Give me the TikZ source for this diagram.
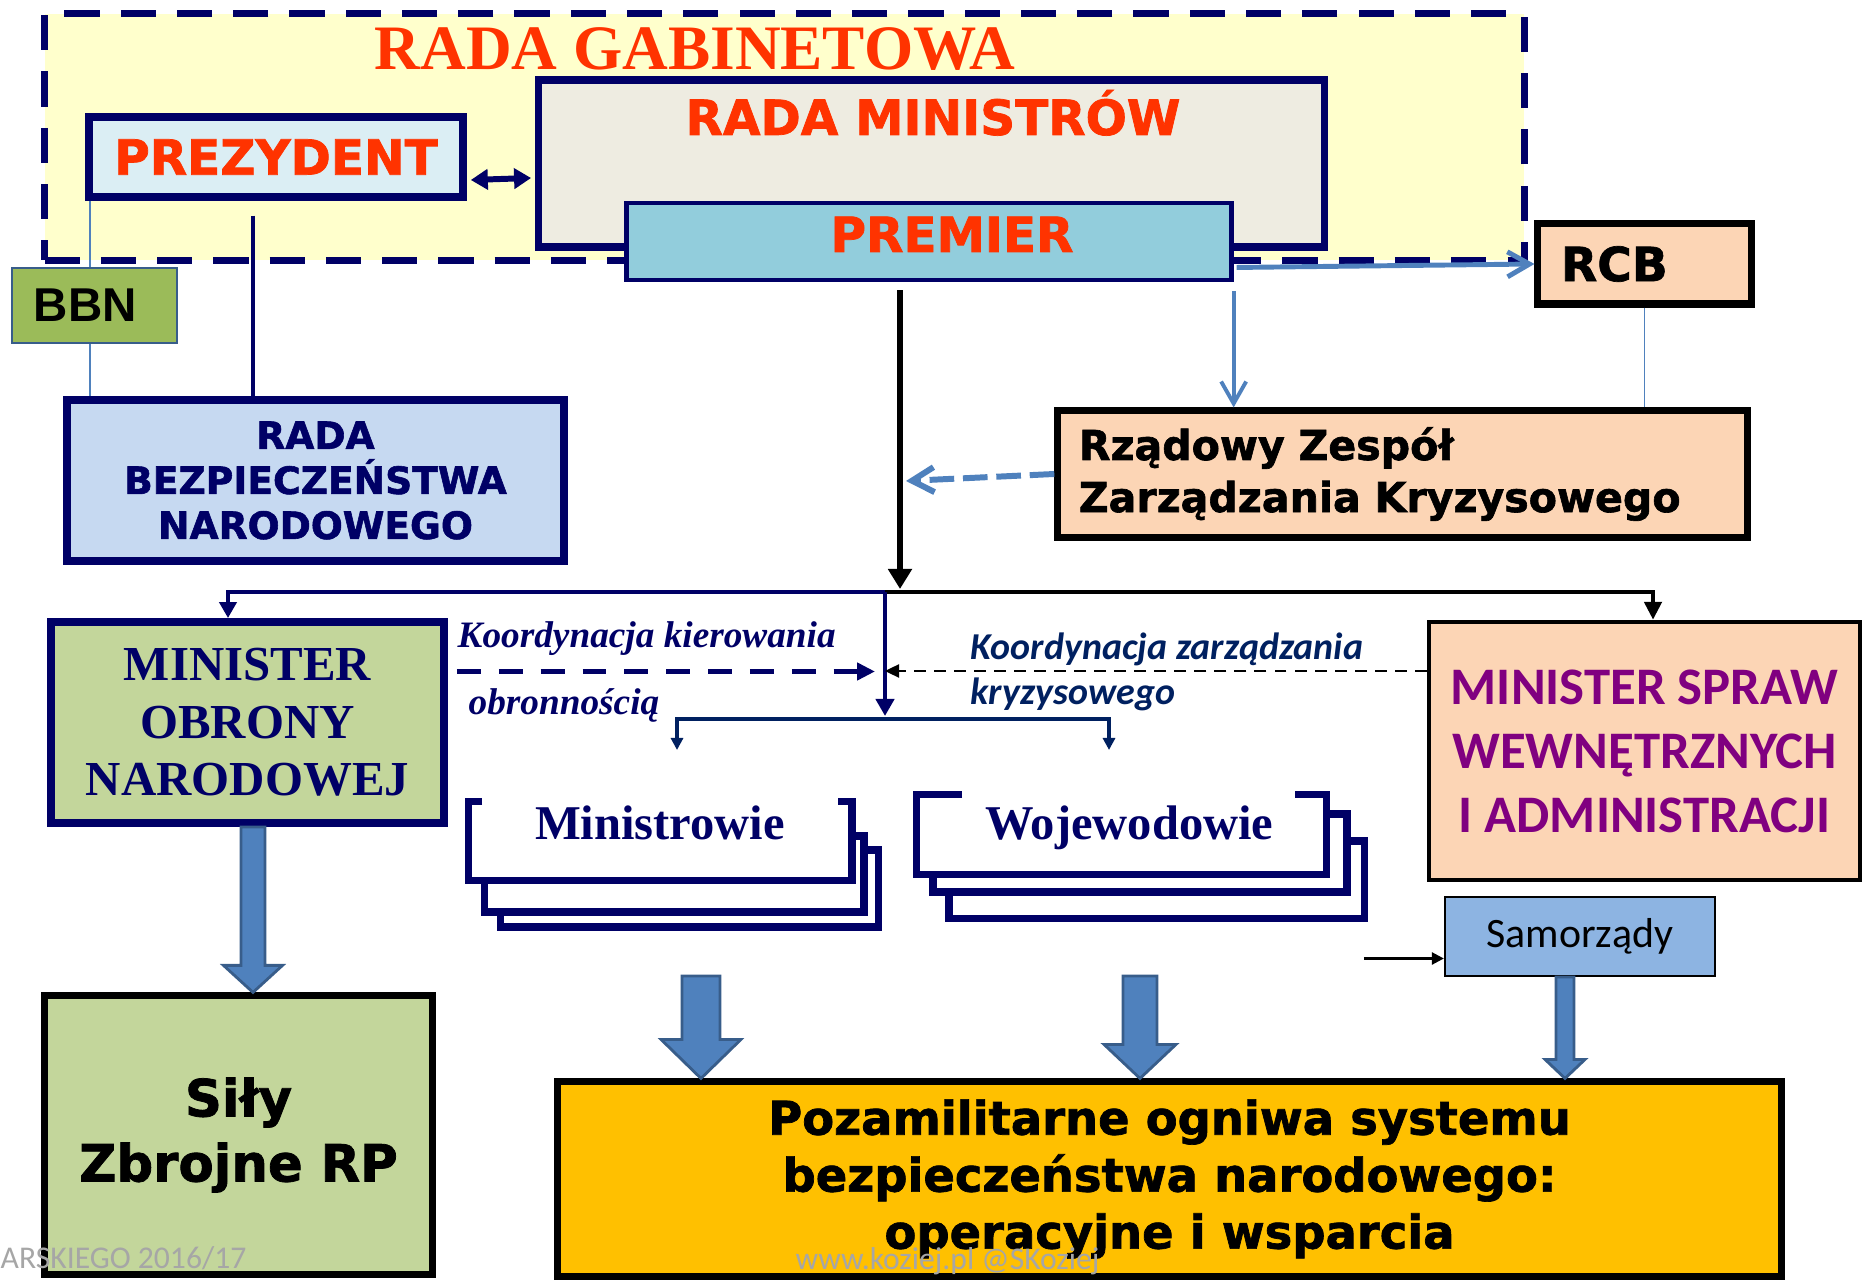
\documentclass[tikz,border=0pt]{standalone}
\usepackage{fontspec}
\setmainfont{Liberation Serif}
\newfontfamily\blackfont{DejaVu Sans}[BoldFeatures={FakeBold=1.5}]
\newfontfamily\arialfont{Liberation Sans}
\newfontfamily\calibrifont{Carlito}
\usetikzlibrary{arrows.meta, calc, positioning}

\definecolor{granat}{RGB}{0,0,102}
\definecolor{ciemnyniebieski}{RGB}{0,32,96}
\definecolor{czerwony}{RGB}{255,51,0}
\definecolor{zolty}{RGB}{255,255,204}
\definecolor{bez}{RGB}{238,236,225}
\definecolor{turkus}{RGB}{146,205,220}
\definecolor{blekit}{RGB}{219,238,244}
\definecolor{niebieski}{RGB}{198,217,241}
\definecolor{oliwka}{RGB}{155,187,89}
\definecolor{brzoskwinia}{RGB}{252,213,181}
\definecolor{seledyn}{RGB}{195,214,155}
\definecolor{samniebieski}{RGB}{141,180,226}
\definecolor{zloty}{RGB}{255,192,0}
\definecolor{stal}{RGB}{79,129,189}
\definecolor{stalciemna}{RGB}{56,93,138}
\definecolor{fiolet}{RGB}{128,0,128}
\definecolor{szary}{RGB}{166,166,166}

\newcommand{\rozmiar}[2]{\fontsize{#1pt}{#2pt}\selectfont}
% gruba strzalka: start, cel, pol trzonu, pol grotu, dlugosc grotu
\newcommand{\blokarrow}[5]{%
  \coordinate (bs) at (#1);
  \coordinate (bt) at (bs |- #2);
  \draw[blok] ($(bs)+(-#3,0)$) -- ($(bs)+(#3,0)$) -- ($(bt)+(#3,-#5)$) -- ($(bt)+(#4,-#5)$)
    -- (bt) -- ($(bt)+(-#4,-#5)$) -- ($(bt)+(-#3,-#5)$) -- cycle;}

\tikzset{
  ramka/.style={draw=granat, line width=2.1pt, inner sep=0pt},
  czarnaramka/.style={draw=black, line width=2pt, inner sep=0pt, fill=brzoskwinia},
  tytul/.style={text=czerwony, inner sep=0pt, font=\blackfont\bfseries\rozmiar{13.8}{16}},
  cienka/.style={draw=stal, line width=0.4pt},
  niebieska/.style={draw=stal, -{Straight Barb[length=0.22cm,width=0.25cm]}},
  granatowa/.style={draw=granat, line width=1.4pt, -{Triangle[length=0.16cm,width=0.17cm]}},
  blok/.style={fill=stal, draw=stalciemna, line width=0.8pt},
  stos/.style={draw=granat, line width=2.1pt, fill=white},
  etykieta/.style={anchor=base west, inner sep=0pt}
}

\begin{document}
\begin{tikzpicture}[x=0.01cm, y=-0.01cm]
\useasboundingbox (0,0) rectangle (1870,1283);

% Rada Gabinetowa
\node[draw=granat, fill=zolty, line width=2pt, dash pattern=on 10pt off 6pt, inner sep=0pt,
  minimum width=14.79cm, minimum height=2.46cm] (gab) at (784.5,137) {};
\node[anchor=base, text=czerwony, inner sep=0pt, font=\bfseries\rozmiar{18}{20}] (gabt) at (695,70) {RADA GABINETOWA};

% Rada Ministrow, Prezydent, Premier
\node[ramka, fill=bez, minimum width=7.85cm, minimum height=1.67cm] (rm) at (931.5,163.5) {};
\node[tytul, anchor=base] (rmt) at (933,135) {RADA MINISTRÓW};
\node[ramka, fill=blekit, tytul, minimum width=3.74cm, minimum height=0.8cm] (prez) at (276,157) {PREZYDENT};
\node[ramka, line width=1.4pt, fill=turkus, minimum width=6.04cm, minimum height=0.77cm] (prem) at (929,241.5) {};
\node[tytul, anchor=base] (premt) at (952,252) {PREMIER};

\coordinate (p8) at ($(prez.east)+(4,23)$);
\draw[granatowa, line width=1.7pt, {Triangle[length=0.17cm,width=0.2cm]}-{Triangle[length=0.17cm,width=0.2cm]}] (p8) -- ($(p8 -| rm.west)+(-4,-2)$);

% RBN i BBN
\node[ramka, fill=niebieski, minimum width=4.97cm, minimum height=1.61cm, align=center, text=granat,
  font=\blackfont\bfseries\rozmiar{10.7}{12.8}] (rbn) at (315.5,480.5) {RADA\\BEZPIECZEŃSTWA\\NARODOWEGO};
\coordinate (p1) at ($(prez.south west)+(5,0)$);
\draw[cienka] (p1) -- (p1 |- rbn.north);
\node[draw=stalciemna, line width=0.6pt, fill=oliwka, minimum width=1.65cm, minimum height=0.75cm,
  text width=1.21cm, inner xsep=0.22cm, inner ysep=0pt, align=left,
  font=\arialfont\bfseries\rozmiar{13.5}{16}] (bbn) at (94.5,305.5) {BBN};
\coordinate (p2) at ($(prez.south)+(-23,15)$);
\draw[granat, line width=1.4pt] (p2) -- (p2 |- rbn.north);

% RCB i Rzadowy Zespol
\node[czarnaramka, minimum width=2.13cm, minimum height=0.8cm, text width=1.67cm, inner xsep=0.23cm,
  align=left, font=\blackfont\bfseries\rozmiar{13.4}{16}] (rcb) at (1644.5,264) {RCB};
\node[czarnaramka, minimum width=6.89cm, minimum height=1.26cm, text width=6.47cm, inner xsep=0.21cm,
  align=left, font=\blackfont\bfseries\rozmiar{11.7}{14.8}] (rzz) at (1402.5,474) {Rządowy Zespół\\Zarządzania Kryzysowego};
\draw[cienka] (rcb.south) -- (rcb.south |- rzz.north);

\coordinate (p3) at ($(prem.south east)+(3,-15)$);
\draw[niebieska, line width=1.4pt] (p3) -- (rcb.west);
\coordinate (p4) at ($(prem.south east)+(0,9)$);
\draw[niebieska, line width=1.1pt] (p4) -- (p4 |- rzz.north);

% pion od Premiera
\coordinate (k1) at ($(prem.south)+(-29,8)$);
\coordinate (rozg) at (885,592);
\coordinate (rozg2) at (885,719);
\draw[black, line width=1.5pt, -{Triangle[length=0.2cm,width=0.23cm]}] (k1) -- ($(k1 |- rozg)+(0,-3)$);
\draw[niebieska, line width=1.7pt, dash pattern=on 7pt off 2.5pt] (rzz.west) -- ($(k1 |- rzz.west)+(6,7)$);

% ministrowie i sily
\node[ramka, line width=2.2pt, fill=seledyn, minimum width=3.93cm, minimum height=2.01cm, align=center,
  text=granat, font=\bfseries\rozmiar{13.9}{16.4}] (mon) at (247.5,722.5) {MINISTER\\OBRONY\\NARODOWEJ};
\node[draw=black, line width=1.2pt, fill=brzoskwinia, inner sep=0pt, minimum width=4.31cm, minimum height=2.58cm,
  align=center, text=fiolet, font=\calibrifont\bfseries\rozmiar{15}{18.2}] (msw) at (1644.5,751) {MINISTER SPRAW\\WEWNĘTRZNYCH\\I ADMINISTRACJI};
\node[draw=black, line width=0.6pt, fill=samniebieski, inner sep=0pt, minimum width=2.7cm, minimum height=0.79cm,
  font=\calibrifont\rozmiar{11.9}{14}] (sam) at (1580,936.5) {Samorządy};
\node[czarnaramka, fill=seledyn, minimum width=3.87cm, minimum height=2.78cm, align=center,
  font=\blackfont\bfseries\rozmiar{14.6}{18.5}] (sily) at (238.5,1135) {Siły\\Zbrojne RP};
\node[czarnaramka, fill=zloty, minimum width=12.23cm, minimum height=1.94cm, align=center,
  font=\blackfont\bfseries\rozmiar{13.2}{16.2}] (poz) at (1169.5,1179) {Pozamilitarne ogniwa systemu\\bezpieczeństwa narodowego:\\operacyjne i wsparcia};

% Ministrowie - stos
\draw[stos] (500.5,850) rectangle (878.5,927);
\draw[stos] (484.5,836) rectangle (864,912);
\node[fill=white, inner sep=0pt, minimum width=3.82cm, minimum height=0.78cm] (min) at (660,841) {};
\draw[granat, line width=2.1pt] ($(min.north west)+(14,0)$) -- (min.north west) -- (min.south west)
  -- (min.south east) -- (min.north east) -- ($(min.north east)+(-14,0)$);
\node[anchor=base, inner sep=0pt, text=granat, font=\bfseries\rozmiar{13.8}{16}] (mint) at ($(min.north)+(0,38)$) {Ministrowie};

% Wojewodowie - stos
\draw[stos] (949,841) rectangle (1364.5,918.5);
\draw[stos] (933,814) rectangle (1347,892);
\node[fill=white, inner sep=0pt, minimum width=4.085cm, minimum height=0.785cm] (woj) at (1121.25,834.75) {};
\draw[granat, line width=2.1pt] ($(woj.north west)+(46,0)$) -- (woj.north west) -- (woj.south west)
  -- (woj.south east) -- (woj.north east) -- ($(woj.north east)+(-31.5,0)$);
\node[anchor=base, inner sep=0pt, text=granat, font=\bfseries\rozmiar{13.8}{16}] (wojt) at ($(woj.north)+(8,44.5)$) {Wojewodowie};

% rozgalezienia
\draw[granatowa] (rozg) -| ($(mon.north)+(-19.5,0)$);
\draw[black, line width=1.4pt, -{Triangle[length=0.18cm,width=0.17cm]}] (rozg) -| ($(msw.north)+(8.5,0)$);
\draw[granatowa, line width=1.2pt, -{Triangle[length=0.17cm,width=0.18cm]}] (rozg) -- ($(rozg2)+(0,-3)$);
\coordinate (s1) at (677,750);
\coordinate (s2) at (1109,750);
\draw[ciemnyniebieski, line width=1.4pt, {Triangle[length=0.12cm,width=0.12cm]}-{Triangle[length=0.12cm,width=0.12cm]}]
  (s1) |- (rozg2) -| (s2);

% koordynacja
\coordinate (p5) at ($(mon.east)+(9,-51)$);
\draw[granatowa, dash pattern=on 6.8pt off 5.1pt, -{Triangle[length=0.18cm,width=0.17cm]}] (p5) -- ($(p5 -| rozg)+(-10,0)$);
\coordinate (p6) at ($(msw.west)+(0,-80)$);
\draw[black, line width=0.7pt, dash pattern=on 3.4pt off 2.3pt, -{Triangle[length=0.14cm,width=0.13cm]}] (p6) -- (p6 -| rozg);
\coordinate (p7) at ($(sam.west)+(-80,22)$);
\draw[black, line width=0.7pt, -{Triangle[length=0.12cm,width=0.12cm]}] (p7) -- (p7 -| sam.west);

\node[etykieta, text=granat, font=\bfseries\itshape\rozmiar{10.6}{12}] (etk1) at (457,648) {Koordynacja kierowania};
\node[etykieta, text=granat, font=\bfseries\itshape\rozmiar{10.6}{12}] (etk2) at (468,715) {obronnością};
\node[etykieta, text=ciemnyniebieski, font=\calibrifont\bfseries\itshape\rozmiar{10.8}{12}] (etk3) at (970,660) {Koordynacja zarządzania};
\node[etykieta, text=ciemnyniebieski, font=\calibrifont\bfseries\itshape\rozmiar{10.8}{12}] (etk4) at (970,705) {kryzysowego};

% grube strzalki
\coordinate (b1) at (701,976);
\coordinate (b2) at (1140,976);
\blokarrow{$(mon.south)+(5.5,0)$}{sily.north}{12}{29.5}{27}
\blokarrow{b1}{poz.north}{19}{40}{39}
\blokarrow{b2}{poz.north}{17}{36}{34}
\blokarrow{$(sam.south)+(-15,0)$}{poz.north}{9}{20}{19}

% stopka
\node[etykieta, text=szary, font=\calibrifont\rozmiar{9}{10}] (znak1) at (0,1268) {ARSKIEGO 2016/17};
\node[etykieta, text=szary, font=\calibrifont\rozmiar{9}{10}] (znak2) at (795,1269) {www.koziej.pl @SKoziej};
\end{tikzpicture}
\end{document}
